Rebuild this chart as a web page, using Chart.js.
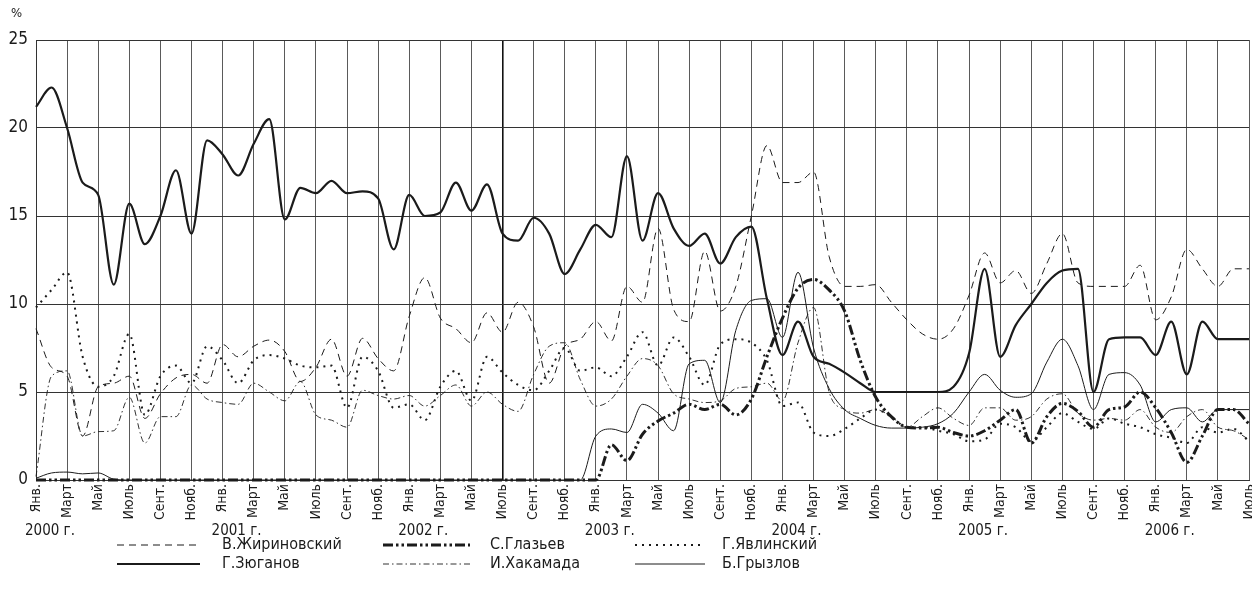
<!DOCTYPE html>
<html>
<head>
<meta charset="utf-8">
<script src="https://cdn.jsdelivr.net/npm/chart.js@4.4.0/dist/chart.umd.min.js"></script>
<style>
  html, body { margin: 0; padding: 0; background: #fff; }
</style>
</head>
<body>
<canvas id="ratingChart" width="1252" height="601"></canvas>
<script>
const years = ['2000 г.', '2001 г.', '2002 г.', '2003 г.', '2004 г.', '2005 г.', '2006 г.'];
const monthTicks = ['Янв.', '', 'Март', '', 'Май', '', 'Июль', '', 'Сент.', '', 'Нояб.', ''];
const yTicks = [0, 5, 10, 15, 20, 25];

// monthly values, Jan 2000 .. Jul 2006
const zhirinovsky = [
  8.6, 6.4, 5.9, 2.5, 5.3, 5.5, 5.9, 3.5, 4.9, 5.8,
  6.0, 5.5, 7.7, 7.0, 7.6, 7.95, 7.3, 5.6, 6.4, 8.0,
  5.9, 8.05, 6.9, 6.2, 9.3, 11.5, 9.2, 8.6, 7.8, 9.5,
  8.4, 10.1, 8.7, 5.5, 7.6, 8.0, 9.0, 7.9, 11.0, 10.1,
  14.3, 9.7, 9.0, 13.0, 9.6, 11.0, 15.0, 19.0, 16.9, 16.9,
  17.5, 12.7, 11.0, 11.0, 11.1, 10.1, 9.1, 8.3, 8.0, 8.6,
  10.5, 12.9, 11.2, 11.9, 10.6, 12.3, 14.0, 11.2, 11.0, 11.0,
  11.0, 12.2, 9.1, 10.4, 13.1, 12.0, 11.0, 12.0, 12.0
];
const zyuganov = [
  21.2, 22.3, 20.0, 16.9, 16.2, 11.1, 15.7, 13.4, 15.0, 17.6,
  14.0, 19.3, 18.5, 17.3, 19.1, 20.5, 14.8, 16.6, 16.3, 17.0,
  16.3, 16.4, 16.0, 13.1, 16.2, 15.0, 15.2, 16.9, 15.3, 16.8,
  14.0, 13.6, 14.9, 14.0, 11.7, 13.1, 14.5, 13.8, 18.4, 13.6,
  16.3, 14.3, 13.3, 14.0, 12.3, 13.8, 14.4, 10.3, 7.1, 9.0,
  7.0, 6.6, 6.1, 5.5, 5.0, 5.0, 5.0, 5.0, 5.0, 5.3,
  7.2, 12.0, 7.0, 8.8, 10.0, 11.2, 11.9, 12.0, 5.0, 8.0,
  8.1, 8.1, 7.1, 9.0, 6.0, 9.0, 8.0, 8.0, 8.0
];
const glazyev = [
  0, 0, 0, 0, 0, 0, 0, 0, 0, 0,
  0, 0, 0, 0, 0, 0, 0, 0, 0, 0,
  0, 0, 0, 0, 0, 0, 0, 0, 0, 0,
  0, 0, 0, 0, 0, 0, 0, 2.0, 1.1, 2.6,
  3.35, 3.8, 4.3, 4.0, 4.3, 3.7, 4.6, 7.0, 9.2, 10.9,
  11.4, 10.8, 9.6, 6.8, 4.7, 3.6, 3.0, 2.95, 3.0, 2.7,
  2.5, 2.8, 3.4, 4.0, 2.1, 3.6, 4.35, 3.9, 3.0, 4.0,
  4.15, 5.0, 4.1, 2.7, 1.0, 2.5, 4.0, 4.0, 3.2
];
const khakamada = [
  0.2, 5.9, 6.2, 2.5, 2.75, 2.8, 4.7, 2.1, 3.6, 3.6,
  5.4, 4.6, 4.4, 4.3, 5.5, 5.0, 4.5, 5.6, 3.7, 3.4,
  3.0, 5.1, 4.8, 4.6, 4.8, 4.2, 4.8, 5.4, 4.2, 5.0,
  4.3, 3.9, 6.0, 7.6, 7.8, 5.7, 4.2, 4.6, 5.9, 6.9,
  6.5, 4.9, 4.6, 4.4, 4.5, 5.2, 5.3, 5.5, 4.5, 7.8,
  9.8, 5.0, 4.0, 3.8, 4.0, 3.6, 3.0, 3.6, 4.1, 3.5,
  3.1, 4.1, 4.1, 3.4, 3.6, 4.6, 4.9, 3.8, 3.4, 3.5,
  3.4, 4.0, 3.0, 2.7, 3.6, 4.0, 3.0, 2.8, 2.3
];
const yavlinsky = [
  9.8, 10.8, 11.8, 7.0, 5.3, 5.9, 8.3, 3.7, 5.9, 6.5,
  5.5, 7.6, 6.8, 5.5, 6.8, 7.1, 6.9, 6.5, 6.4, 6.5,
  4.1, 7.0, 6.2, 4.1, 4.3, 3.4, 5.3, 6.2, 4.5, 7.0,
  6.1, 5.4, 5.1, 6.2, 7.5, 6.2, 6.4, 5.9, 7.0, 8.4,
  6.5, 8.1, 7.0, 5.4, 7.7, 8.0, 7.8, 6.8, 4.2, 4.4,
  2.7, 2.5, 2.9, 3.5, 4.0, 3.6, 3.0, 3.0, 2.8, 2.6,
  2.2, 2.3, 3.2, 3.0, 2.2, 3.0, 3.8, 3.3, 2.9, 3.5,
  3.2, 3.0, 2.6, 2.4, 2.1, 3.0, 2.7, 2.9, 2.2
];
const gryzlov = [
  0.1, 0.4, 0.45, 0.35, 0.4, 0.05, 0, 0, 0, 0,
  0, 0, 0, 0, 0, 0, 0, 0, 0, 0,
  0, 0, 0, 0, 0, 0, 0, 0, 0, 0,
  0, 0, 0, 0, 0, 0, 2.5, 2.9, 2.7, 4.3,
  3.8, 2.8, 6.6, 6.8, 4.4, 8.5, 10.2, 10.3, 8.1, 11.8,
  7.5, 5.2, 4.0, 3.5, 3.1, 2.95, 2.95, 3.0, 3.2, 3.8,
  5.0, 6.0, 5.1, 4.7, 4.9, 6.7, 8.0, 6.5, 4.0, 6.0,
  6.1, 5.4, 3.3, 4.0, 4.1, 3.3, 4.0, 4.0, 4.0
];

const categories = [];
years.forEach((y, yi) => {
  monthTicks.forEach((m, mi) => {
    if (categories.length < zyuganov.length) categories.push((2000 + yi) + '-' + (mi + 1));
  });
});

const FONT = '"Liberation Sans Narrow", "DejaVu Sans Condensed", "Roboto Condensed", "Arial Narrow", sans-serif';
const INK = '#1b1b1b';

const series = [
  { label: 'В.Жириновский', data: zhirinovsky, width: 1, dash: [7, 5] },
  { label: 'С.Глазьев', data: glazyev, width: 3, dash: [10, 3, 2.5, 3, 2.5, 3] },
  { label: 'Г.Явлинский', data: yavlinsky, width: 2, dash: [2, 5] },
  { label: 'Г.Зюганов', data: zyuganov, width: 2.2, dash: [] },
  { label: 'И.Хакамада', data: khakamada, width: 0.9, dash: [6, 3, 1.5, 3] },
  { label: 'Б.Грызлов', data: gryzlov, width: 1, dash: [] }
];

// legend slots: [line start, line end, text x, row y]
const legendSlots = [
  [117, 200, 222, 545], [383, 470, 490, 545], [635, 705, 722, 545],
  [117, 200, 222, 564], [383, 470, 490, 564], [635, 705, 722, 564]
];

const extrasPlugin = {
  id: 'extras',
  afterDraw(chart) {
    const c = chart.ctx;
    const xs = chart.scales.x;
    c.save();
    c.fillStyle = INK;
    c.font = '13px ' + FONT;
    c.textAlign = 'left';
    c.textBaseline = 'middle';
    c.fillText('%', 11, 14);

    c.font = '15px ' + FONT;
    years.forEach((y, yi) => {
      c.fillText(y, xs.getPixelForValue(yi * 12) - 11, 531);
    });

    c.font = '16px ' + FONT;
    series.forEach((s, i) => {
      const [x0, x1, tx, ty] = legendSlots[i];
      c.beginPath();
      c.setLineDash(s.dash);
      c.lineWidth = s.width;
      c.strokeStyle = INK;
      c.moveTo(x0, ty);
      c.lineTo(x1, ty);
      c.stroke();
      c.setLineDash([]);
      c.fillText(s.label, tx, ty);
    });
    c.restore();
  }
};

const ctx = document.getElementById('ratingChart').getContext('2d');
const ratingChart = new Chart(ctx, {
  type: 'line',
  data: {
    labels: categories,
    datasets: series.map(s => ({
      label: s.label,
      data: s.data,
      borderColor: INK,
      borderWidth: s.width,
      borderDash: s.dash,
      pointRadius: 0,
      fill: false,
      tension: 0.4,
      cubicInterpolationMode: 'monotone',
      clip: false
    }))
  },
  options: {
    responsive: false,
    animation: false,
    layout: { padding: { top: 40, right: 3, bottom: 81, left: 0 } },
    plugins: { legend: { display: false }, tooltip: { enabled: false } },
    scales: {
      x: {
        offset: false,
        afterFit: scale => {
          scale.height = 40;
          scale.paddingLeft = 0;
          scale.paddingRight = 0;
        },
        grid: {
          drawTicks: false,
          color: c => c.index % 2 === 0 ? (c.index === 30 ? '#111' : '#5a5a5a') : 'rgba(0,0,0,0)',
          lineWidth: c => c.index === 30 ? 1.6 : 1
        },
        border: { color: '#333' },
        ticks: {
          autoSkip: false,
          minRotation: 90,
          maxRotation: 90,
          padding: 4,
          color: INK,
          font: { family: FONT, size: 14 },
          callback: (v, i) => monthTicks[i % 12]
        }
      },
      y: {
        min: 0,
        max: 25,
        afterFit: scale => { scale.width = 36; },
        afterBuildTicks: scale => { scale.ticks = yTicks.map(v => ({ value: v })); },
        grid: { drawTicks: false, color: '#333', lineWidth: 1 },
        border: { color: '#333' },
        ticks: {
          padding: 8,
          color: INK,
          font: { family: FONT, size: 17 }
        }
      }
    }
  },
  plugins: [extrasPlugin]
});
</script>
</body>
</html>
